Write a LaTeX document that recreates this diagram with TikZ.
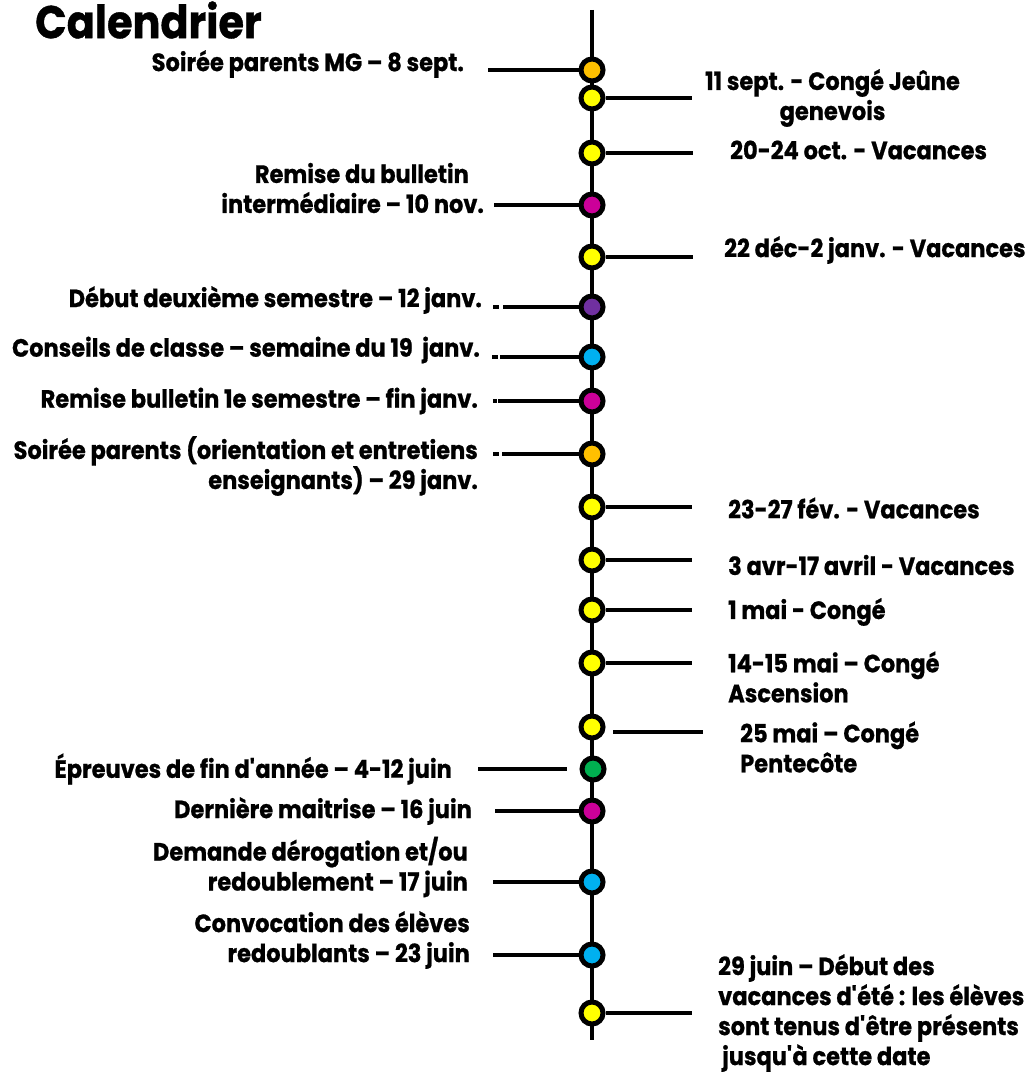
\documentclass[tikz,border=0pt]{standalone}
\usepackage{fontspec}
\setmainfont{Poppins}[FakeStretch=0.9, BoldFeatures={FakeBold=0.8}]

\definecolor{evorange}{HTML}{FFC000}
\definecolor{evyellow}{HTML}{FFFF00}
\definecolor{evmagenta}{HTML}{CC0099}
\definecolor{evpurple}{HTML}{7030A0}
\definecolor{evblue}{HTML}{00B0F0}
\definecolor{evgreen}{HTML}{00B050}

\begin{document}
\begin{tikzpicture}[x=1pt, y=-1pt,
    event/.style={circle, draw=black, line width=5pt, minimum size=22pt, inner sep=0pt},
    tick/.style={black, line width=4pt},
    lbl/.style={font=\fontsize{25}{30}\selectfont\bfseries, inner sep=0pt}]
    \useasboundingbox (0,0) rectangle (1031,1075);

    % title
    \node[anchor=west, inner sep=0pt, font=\fontsize{46}{48}\selectfont\bfseries] (title) at (35,20) {Calendrier};

    % time axis
    \coordinate (top) at (592,10);
    \coordinate (bottom) at (592,1040);
    \draw[black, line width=4pt] (top) -- (bottom);

    % free ends of the ticks
    \coordinate (t1) at (488,70);
    \coordinate (t2) at (692,98);
    \coordinate (t3) at (693,153);
    \coordinate (t4) at (494,205);
    \coordinate (t5) at (693,257);
    \coordinate (t6) at (493,307);
    \coordinate (t7) at (492,357);
    \coordinate (t8) at (493,401);
    \coordinate (t9) at (493,454);
    \coordinate (t10) at (692,507);
    \coordinate (t11) at (692,560);
    \coordinate (t12) at (692,610);
    \coordinate (t13) at (692,663);
    \coordinate (t14a) at (613,732);
    \coordinate (t14b) at (703,732);
    \coordinate (t15a) at (478,769);
    \coordinate (t15b) at (567,769);
    \coordinate (t16) at (495,811);
    \coordinate (t17) at (493,882);
    \coordinate (t18) at (493,955);
    \coordinate (t19) at (692,1013);

    % events
    \node[event, fill=evorange] (e1) at (592,70) {};
    \node[event, fill=evyellow] (e2) at (592,98) {};
    \node[event, fill=evyellow] (e3) at (592,153) {};
    \node[event, fill=evmagenta] (e4) at (592,205) {};
    \node[event, fill=evyellow] (e5) at (592,257) {};
    \node[event, fill=evpurple] (e6) at (592,307) {};
    \node[event, fill=evblue] (e7) at (592,357) {};
    \node[event, fill=evmagenta] (e8) at (592,401) {};
    \node[event, fill=evorange] (e9) at (592,454) {};
    \node[event, fill=evyellow] (e10) at (592,507) {};
    \node[event, fill=evyellow] (e11) at (592,560) {};
    \node[event, fill=evyellow] (e12) at (592,610) {};
    \node[event, fill=evyellow] (e13) at (592,663) {};
    \node[event, fill=evyellow] (e14) at (592,727) {};
    \node[event, fill=evgreen] (e15) at (593,769) {};
    \node[event, fill=evmagenta] (e16) at (592,811) {};
    \node[event, fill=evblue] (e17) at (592,882) {};
    \node[event, fill=evblue] (e18) at (592,955) {};
    \node[event, fill=evyellow] (e19) at (592,1013) {};

    % ticks
    \draw[tick] (t1) -- (e1);
    \draw[tick] (e2) -- (t2);
    \draw[tick] (e3) -- (t3);
    \draw[tick] (t4) -- (e4);
    \draw[tick] (e5) -- (t5);
    \draw[tick, dash pattern=on 6pt off 4pt on 200pt] (t6) -- (e6);
    \draw[tick, dash pattern=on 6pt off 2pt on 200pt] (t7) -- (e7);
    \draw[tick, dash pattern=on 4pt off 1pt on 200pt] (t8) -- (e8);
    \draw[tick, dash pattern=on 6pt off 3pt on 200pt] (t9) -- (e9);
    \draw[tick] (e10) -- (t10);
    \draw[tick] (e11) -- (t11);
    \draw[tick] (e12) -- (t12);
    \draw[tick] (e13) -- (t13);
    \draw[tick] (t14a) -- (t14b);
    \draw[tick] (t15a) -- (t15b);
    \draw[tick] (t16) -- (e16);
    \draw[tick] (t17) -- (e17);
    \draw[tick] (t18) -- (e18);
    \draw[tick] (e19) -- (t19);

    % labels, left side
    \node[lbl, anchor=east] (n1) at (464,64) {Soirée parents MG – 8 sept.};
    \node[lbl, anchor=east, align=right] (n4) at (484,188) {Remise du bulletin\hspace*{15pt}\\intermédiaire – 10 nov.};
    \node[lbl, anchor=east] (n6) at (482,300) {Début deuxième semestre – 12 janv.};
    \node[lbl, anchor=east] (n7) at (480,350) {Conseils de classe – semaine du 19~~janv.};
    \node[lbl, anchor=east] (n8) at (478,401) {Remise bulletin 1e semestre – fin janv.};
    \node[lbl, anchor=east, align=right] (n9) at (478,466) {Soirée parents (orientation et entretiens\\enseignants) – 29 janv.};
    \node[lbl, anchor=east] (n15) at (452,769) {Épreuves de fin d\textquotesingle année – 4-12 juin};
    \node[lbl, anchor=east] (n16) at (472,811) {Dernière maitrise – 16 juin};
    \node[lbl, anchor=east, align=right] (n17) at (468,867) {Demande dérogation et/ou\\redoublement – 17 juin};
    \node[lbl, anchor=east, align=right] (n18) at (470,940) {Convocation des élèves\\redoublants – 23 juin};

    % labels, right side
    \node[lbl, anchor=west, align=center] (n2) at (705,98) {11 sept. - Congé Jeûne\\genevois};
    \node[lbl, anchor=west] (n3) at (730,150) {20-24 oct. - Vacances};
    \node[lbl, anchor=west] (n5) at (724,250) {22 déc-2 janv. - Vacances};
    \node[lbl, anchor=west] (n10) at (728,508) {23-27 fév. - Vacances};
    \node[lbl, anchor=west] (n11) at (728,565) {3 avr-17 avril - Vacances};
    \node[lbl, anchor=west] (n12) at (728,612) {1 mai - Congé};
    \node[lbl, anchor=west, align=left] (n13) at (728,677) {14-15 mai – Congé\\Ascension};
    \node[lbl, anchor=west, align=left] (n14) at (740,747) {25 mai – Congé\\Pentecôte};
    \node[lbl, anchor=west, align=left] (n19) at (718,1013) {29 juin – Début des\\vacances d\textquotesingle été : les élèves\\sont tenus d\textquotesingle être présents\\\hspace*{4pt}jusqu\textquotesingle à cette date};
\end{tikzpicture}
\end{document}
